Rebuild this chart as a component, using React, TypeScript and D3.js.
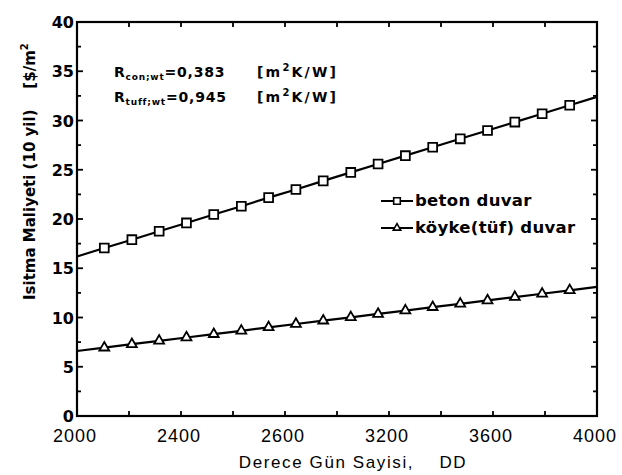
import React, { useEffect, useRef } from 'react';
import * as d3 from 'd3';

// derece gün (DD) values where markers sit
const ddPoints = [2000, 2105, 2211, 2316, 2421, 2526, 2632, 2737, 2842, 2947, 3053, 3158, 3263, 3368, 3474, 3579, 3684, 3789, 3895, 4000];
const betonValues = [16.2, 17.05, 17.9, 18.76, 19.6, 20.46, 21.3, 22.17, 23.0, 23.87, 24.73, 25.58, 26.43, 27.28, 28.14, 28.99, 29.84, 30.69, 31.55, 32.4];
const tufValues = [6.6, 6.94, 7.29, 7.63, 7.97, 8.31, 8.65, 9.0, 9.34, 9.68, 10.02, 10.36, 10.7, 11.05, 11.39, 11.73, 12.07, 12.41, 12.76, 13.1];

const xTickValues = [2000, 2400, 2800, 3200, 3600, 4000];
const xTickLabels = ['2000', '2400', '2600', '3200', '3600', '4000'];
const yTickValues = [0, 5, 10, 15, 20, 25, 30, 35, 40];

const W = 622;
const H = 475;

const App = () => {
    const ref = useRef<SVGSVGElement>(null);

    useEffect(() => {
        const svg = d3.select(ref.current);
        svg.selectAll('*').remove();

        const left = 77, right = 597, top = 22, bottom = 416;
        const x = d3.scaleLinear().domain([2000, 4000]).range([left, right]);
        const y = d3.scaleLinear().domain([0, 40]).range([bottom, top]);
        const font = 'Liberation Sans, Arial, sans-serif';
        const heavy = 'DejaVu Sans, sans-serif';

        // minor / major ticks, all pointing inward
        const g = svg.append('g').attr('stroke', '#000').attr('stroke-width', 1.8);
        d3.range(2000, 4001, 200).forEach(v => {
            g.append('line').attr('x1', x(v)).attr('x2', x(v)).attr('y1', bottom).attr('y2', bottom - 5);
            g.append('line').attr('x1', x(v)).attr('x2', x(v)).attr('y1', top).attr('y2', top + 5);
        });
        d3.range(0, 40.1, 2.5).forEach(v => {
            const len = v % 5 === 0 ? 6 : 4;
            g.append('line').attr('x1', left).attr('x2', left + len).attr('y1', y(v)).attr('y2', y(v));
            g.append('line').attr('x1', right).attr('x2', right - len).attr('y1', y(v)).attr('y2', y(v));
        });

        svg.append('rect')
            .attr('x', left).attr('y', top)
            .attr('width', right - left).attr('height', bottom - top)
            .attr('fill', 'none').attr('stroke', '#000').attr('stroke-width', 2.2);

        // y tick labels
        svg.append('g').selectAll('text')
            .data(yTickValues)
            .join('text')
            .attr('x', left - 3)
            .attr('y', d => y(d) + 6)
            .attr('text-anchor', 'end')
            .attr('font-family', heavy)
            .attr('font-weight', 'bold')
            .attr('font-size', 16)
            .text(d => d);

        // x tick labels
        svg.append('g').selectAll('text')
            .data(xTickValues)
            .join('text')
            .attr('x', d => x(d) - 2)
            .attr('y', 442)
            .attr('text-anchor', 'middle')
            .attr('font-family', font)
            .attr('font-size', 18)
            .attr('letter-spacing', 1)
            .text((d, i) => xTickLabels[i]);

        svg.append('text')
            .attr('x', 353).attr('y', 468)
            .attr('text-anchor', 'middle')
            .attr('font-family', font)
            .attr('font-size', 17)
            .attr('letter-spacing', 1.6)
            .attr('xml:space', 'preserve')
            .text('Derece Gün Sayisi,    DD');

        // y title
        const yt = svg.append('text')
            .attr('transform', 'translate(35,300) rotate(-90)')
            .attr('font-family', heavy)
            .attr('font-weight', 'bold')
            .attr('font-size', 15)
            .attr('xml:space', 'preserve');
        yt.append('tspan').text('Isitma Maliyeti (10 yil)    [$/m');
        yt.append('tspan').attr('font-size', 10).attr('dy', -7).text('2');

        // lines
        const series = [
            { values: betonValues, shape: 'square' },
            { values: tufValues, shape: 'triangle' },
        ];
        const line = d3.line<number>().x((d, i) => x(ddPoints[i])).y(d => y(d));
        series.forEach(s => {
            svg.append('path')
                .attr('d', line(s.values))
                .attr('fill', 'none')
                .attr('stroke', '#000')
                .attr('stroke-width', 2.2);
            const sym = d3.symbol()
                .type(s.shape === 'square' ? d3.symbolSquare : d3.symbolTriangle)
                .size(s.shape === 'square' ? 78 : 42);
            svg.append('g').selectAll('path')
                .data(s.values.slice(1, -1))
                .join('path')
                .attr('transform', (d, i) => `translate(${x(ddPoints[i + 1])},${y(d)})`)
                .attr('d', sym())
                .attr('fill', '#fff')
                .attr('stroke', '#000')
                .attr('stroke-width', 1.8);
        });

        // R annotations
        const notes = [
            { sub: 'con;wt', val: '=0,383', yy: 77 },
            { sub: 'tuff;wt', val: '=0,945', yy: 102 },
        ];
        notes.forEach(n => {
            const t = svg.append('text')
                .attr('x', 114).attr('y', n.yy)
                .attr('font-family', heavy)
                .attr('font-weight', 'bold')
                .attr('font-size', 14)
                .attr('letter-spacing', 0.8);
            t.append('tspan').text('R');
            t.append('tspan').attr('font-size', 9).attr('dy', 3).text(n.sub);
            t.append('tspan').attr('dy', -3).text(n.val);
            const u = svg.append('text')
                .attr('x', 257).attr('y', n.yy)
                .attr('font-family', heavy)
                .attr('font-weight', 'bold')
                .attr('font-size', 14)
                .attr('letter-spacing', 2.2);
            u.append('tspan').text('[m');
            u.append('tspan').attr('font-size', 10).attr('dy', -6).text('2');
            u.append('tspan').attr('dy', 6).text('K/W]');
        });

        // legend
        const legend = [
            { label: 'beton duvar', shape: d3.symbolSquare, size: 44, yy: 201 },
            { label: 'köyke(tüf) duvar', shape: d3.symbolTriangle, size: 24, yy: 228 },
        ];
        legend.forEach(l => {
            svg.append('line')
                .attr('x1', 381).attr('x2', 413)
                .attr('y1', l.yy).attr('y2', l.yy)
                .attr('stroke', '#000').attr('stroke-width', 2);
            svg.append('path')
                .attr('transform', `translate(397,${l.yy})`)
                .attr('d', d3.symbol().type(l.shape).size(l.size)())
                .attr('fill', '#fff').attr('stroke', '#000').attr('stroke-width', 1.6);
            svg.append('text')
                .attr('x', 415).attr('y', l.yy + 5)
                .attr('font-family', heavy)
                .attr('font-weight', 'bold')
                .attr('font-size', 16.5)
                .attr('letter-spacing', 0.3)
                .text(l.label);
        });
    }, []);

    return (
        <svg ref={ref} width={W} height={H}
            style={{ position: 'absolute', left: 0, top: 0, background: '#fff' }} />
    );
};

export default App;
